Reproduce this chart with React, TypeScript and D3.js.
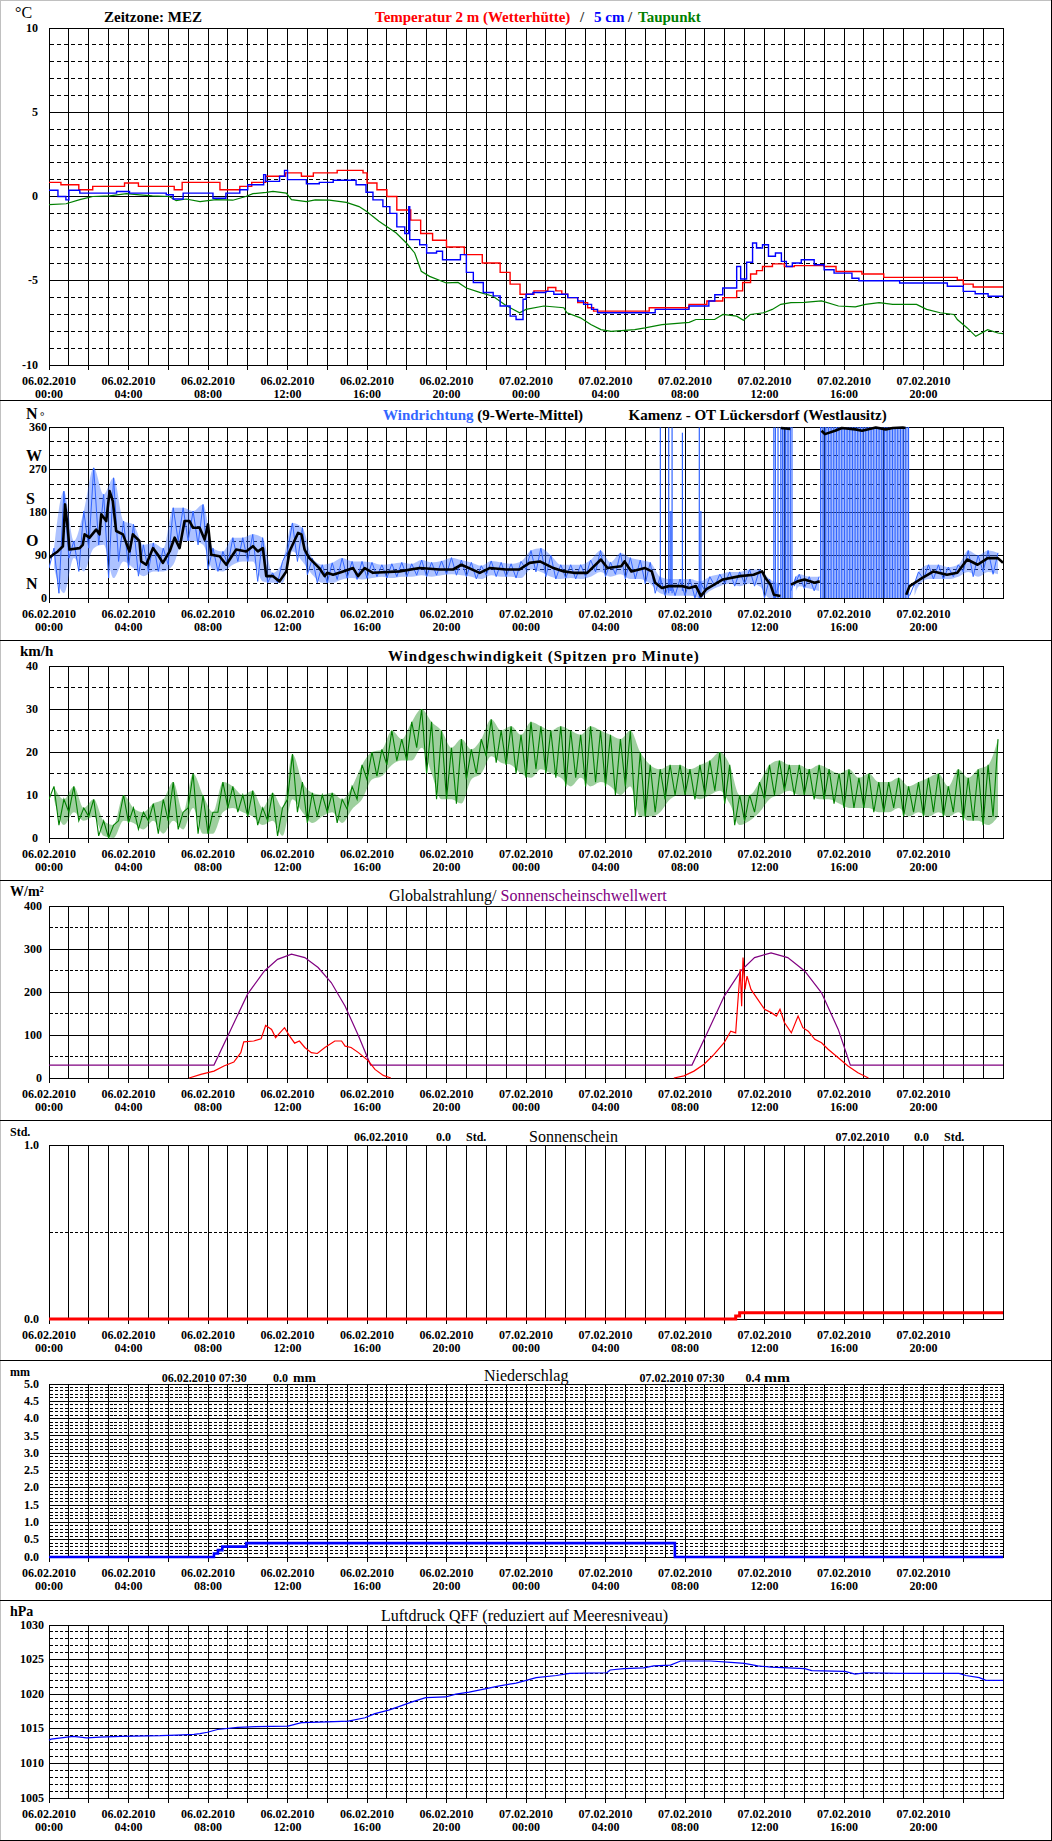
import React from 'react';
import * as d3 from 'd3';

const FONT = '"Liberation Serif","Times New Roman",Times,serif';

// ---------- axis labels ----------
const axisHours = [0, 4, 8, 12, 16, 20, 24, 28, 32, 36, 40, 44];
const axisDates = ['06.02.2010', '06.02.2010', '06.02.2010', '06.02.2010', '06.02.2010', '06.02.2010', '07.02.2010', '07.02.2010', '07.02.2010', '07.02.2010', '07.02.2010', '07.02.2010'];
const axisTimes = ['00:00', '04:00', '08:00', '12:00', '16:00', '20:00', '00:00', '04:00', '08:00', '12:00', '16:00', '20:00'];

const tempTicks = [10, 5, 0, -5, -10];
const dirTicks = [360, 270, 180, 90, 0];
const dirLetters = ['W', 'S', 'O', 'N'];
const dirLetterAt = [270, 180, 90, 0];
const speedTicks = [40, 30, 20, 10, 0];
const radTicks = [400, 300, 200, 100, 0];
const sunTickVals = [1, 0];
const sunTickText = ['1.0', '0.0'];
const rainTickVals = [5, 4.5, 4, 3.5, 3, 2.5, 2, 1.5, 1, 0.5, 0];
const rainTickText = ['5.0', '4.5', '4.0', '3.5', '3.0', '2.5', '2.0', '1.5', '1.0', '0.5', '0.0'];
const presTicks = [1030, 1025, 1020, 1015, 1010, 1005];

// ---------- temperature [hour, °C] ----------
const tempAir: [number, number][] = [[0, 0.84], [0.6, 0.7], [1.5, 0.4], [2.2, 0.6], [3.8, 0.8], [4.5, 0.6], [6.3, 0.4], [6.7, 0.84], [8.6, 0.4], [9.6, 0.6], [10.2, 0.84], [10.9, 1.2], [11.9, 1.4], [12.7, 1.2], [13.3, 1.4], [14.5, 1.55], [15.8, 1.4], [16.0, 0.8], [16.5, 0.4], [17.0, 0.0], [17.5, -0.8], [18.2, -1.4], [18.7, -2.2], [19.3, -2.6], [20.0, -3.0], [20.9, -3.45], [21.8, -3.95], [22.7, -4.5], [23.2, -5.2], [23.7, -5.8], [24.4, -5.6], [25.1, -5.4], [25.5, -5.6], [25.8, -5.8], [26.1, -6.0], [26.6, -6.3], [27.1, -6.6], [27.4, -6.8], [30.2, -6.6], [32.2, -6.4], [33.1, -6.2], [33.9, -6.0], [34.6, -5.6], [34.9, -5.1], [35.3, -4.6], [35.6, -4.4], [35.9, -4.15], [36.4, -4.0], [37.0, -4.15], [37.5, -4.1], [39.0, -4.15], [39.6, -4.45], [40.9, -4.6], [42.0, -4.8], [45.7, -4.95], [46.0, -5.2], [46.5, -5.37], [48, -5.37]];
const tempGround: [number, number][] = [[0, 0.37], [0.45, 0.0], [0.85, -0.2], [1.0, 0.37], [1.55, 0.2], [3.4, 0.3], [4.05, 0.2], [5.9, 0.1], [6.25, -0.15], [6.75, 0.2], [8.25, -0.1], [8.9, 0.2], [9.6, 0.4], [10.0, 0.7], [10.8, 1.3], [10.9, 0.9], [11.6, 1.2], [11.85, 1.55], [12.0, 1.0], [12.95, 0.76], [13.6, 0.84], [14.3, 0.96], [15.45, 0.7], [15.95, 0.25], [16.3, -0.2], [16.8, -0.6], [17.15, -1.0], [17.5, -1.8], [17.9, -2.2], [18.1, -0.6], [18.15, -2.56], [18.65, -2.86], [19.0, -3.35], [19.5, -3.25], [19.8, -3.75], [20.7, -3.45], [21.0, -4.5], [21.35, -5.1], [21.85, -5.7], [22.35, -5.9], [22.7, -6.5], [23.2, -7.1], [23.5, -7.3], [23.85, -6.1], [24.0, -5.8], [24.35, -5.7], [25.0, -5.63], [25.4, -5.8], [26.1, -6.0], [26.6, -6.2], [26.9, -6.4], [27.3, -6.7], [27.6, -6.9], [30.5, -6.7], [32.2, -6.5], [33.2, -6.2], [33.5, -5.83], [33.9, -5.43], [34.6, -4.15], [34.8, -4.9], [35.1, -3.9], [35.4, -2.76], [35.6, -3.06], [35.9, -2.86], [36.2, -3.55], [36.55, -3.35], [36.85, -3.85], [37.1, -4.15], [37.4, -3.95], [37.85, -3.75], [38.5, -4.05], [39.0, -4.35], [39.5, -4.55], [40.4, -4.85], [40.75, -5.0], [42.8, -5.13], [45.2, -5.33], [46.0, -5.63], [46.6, -5.77], [47.25, -5.92], [48, -5.92]];
const dewPoint: [number, number][] = [[0, -0.48], [0.86, -0.43], [1.55, -0.19], [2.2, 0.0], [3.05, 0.04], [3.9, 0.17], [4.55, 0.1], [5.2, 0.04], [6.05, 0.0], [6.4, -0.25], [6.9, -0.15], [7.6, -0.3], [8.4, -0.19], [9.25, -0.22], [9.9, 0.0], [10.26, 0.17], [10.93, 0.25], [11.27, 0.3], [11.94, 0.2], [12.2, -0.19], [12.95, -0.3], [13.4, -0.2], [14.1, -0.22], [14.96, -0.35], [15.6, -0.6], [15.97, -0.88], [16.6, -1.47], [16.97, -1.77], [17.47, -2.17], [17.98, -2.76], [18.4, -3.35], [18.73, -4.44], [19.15, -4.74], [19.99, -5.13], [20.58, -5.1], [21.0, -5.43], [21.67, -5.69], [22.34, -5.92], [23.01, -6.48], [23.68, -6.9], [24.0, -6.7], [24.9, -6.5], [25.9, -6.6], [26.06, -6.9], [26.74, -7.2], [27.26, -7.6], [27.77, -7.9], [28.28, -8.0], [29.47, -7.9], [29.99, -7.8], [30.84, -7.6], [32.21, -7.47], [32.55, -7.3], [33.49, -7.3], [33.91, -7.0], [34.6, -7.1], [34.94, -7.35], [35.28, -7.0], [35.96, -6.9], [36.39, -6.7], [36.82, -6.4], [37.33, -6.3], [38.01, -6.28], [38.87, -6.2], [39.72, -6.5], [40.57, -6.55], [41.08, -6.4], [41.77, -6.3], [42.45, -6.4], [43.65, -6.4], [44.16, -6.7], [44.84, -6.9], [45.53, -7.0], [45.7, -7.3], [46.2, -7.8], [46.63, -8.3], [47.23, -7.9], [47.74, -8.1], [48, -8.14]];

// ---------- wind direction ----------
// raw (1-min) spread per half hour bin: [binStart, low, high]
const windDirRange: [number, number, number][] = [[0, 63, 105], [0.5, 10, 225], [1, 84, 120], [1.5, 56, 183], [2, 105, 274], [2.5, 112, 218], [3, 42, 253], [3.5, 77, 162], [4, 63, 155], [4.5, 46, 112], [5, 56, 116], [5.5, 56, 105], [6, 70, 190], [6.5, 120, 190], [7, 120, 183], [7.5, 112, 197], [8, 60, 105], [8.5, 56, 98], [9, 70, 127], [9.5, 77, 127], [10, 77, 134], [10.5, 35, 127], [11, 32, 53], [11.5, 32, 77], [12, 98, 158], [12.5, 77, 148], [13, 49, 84], [13.5, 32, 70], [14, 32, 74], [14.5, 39, 84], [15, 42, 77], [15.5, 39, 77], [16, 42, 75], [16.5, 45, 70], [17, 42, 72], [17.5, 45, 75], [18, 45, 72], [18.5, 48, 80], [19, 45, 75], [19.5, 48, 78], [20, 50, 85], [20.5, 48, 80], [21, 45, 75], [21.5, 40, 68], [22, 48, 78], [22.5, 45, 75], [23, 45, 72], [23.5, 42, 77], [24, 60, 100], [24.5, 55, 105], [25, 45, 90], [25.5, 40, 70], [26, 42, 70], [26.5, 40, 70], [27, 45, 80], [27.5, 55, 100], [28, 45, 75], [28.5, 50, 95], [29, 40, 85], [29.5, 40, 80], [30, 30, 75], [30.5, 10, 45], [31, 5, 40], [31.5, 5, 40], [32, 5, 40], [32.5, 0, 35], [33, 15, 45], [33.5, 25, 50], [34, 30, 55], [34.5, 25, 55], [35, 30, 60], [35.5, 25, 60], [36, 0, 40], [36.5, 0, 30], [37.33, 15, 45], [37.5, 25, 50], [38, 20, 45], [38.5, 15, 45], [43.3, 5, 30], [43.5, 25, 55], [44, 40, 70], [44.5, 40, 70], [45, 40, 65], [45.5, 45, 70], [46, 55, 100], [46.5, 45, 90], [47, 55, 100], [47.5, 50, 95]];
// single full-swing lines (north wind jumping 0/360): [hour, low, high]
const windDirSpikes: [number, number, number][] = [[30.76, 20, 359], [31.18, 10, 359], [31.25, 15, 183], [31.3, 15, 183], [31.35, 10, 359], [31.87, 15, 348], [32.72, 0, 359], [32.8, 0, 183], [36.47, 0, 359], [36.55, 0, 359], [36.68, 0, 359], [36.82, 0, 359], [36.9, 0, 359]];
// dense 0/360 oscillation periods: [start, end]
const windDirBlocks: [number, number][] = [[36.98, 37.41], [38.82, 43.28]];
// 9-value running mean
const windDirMean: ([number, number] | null)[] = [[0, 84], [0.2, 91], [0.44, 98], [0.7, 109], [0.81, 197], [0.95, 144], [1.03, 102], [1.54, 105], [1.7, 112], [1.79, 134], [2.04, 127], [2.37, 144], [2.54, 134], [2.63, 176], [2.88, 162], [3.05, 225], [3.21, 204], [3.38, 141], [3.72, 134], [4.05, 98], [4.22, 134], [4.55, 120], [4.64, 77], [4.89, 70], [5.23, 105], [5.48, 91], [5.73, 74], [6.07, 98], [6.32, 127], [6.57, 105], [6.82, 162], [7.07, 162], [7.24, 148], [7.58, 148], [7.83, 123], [8.0, 155], [8.16, 91], [8.58, 88], [8.92, 70], [9.42, 102], [9.92, 98], [10.26, 109], [10.51, 98], [10.76, 105], [10.93, 46], [11.27, 46], [11.6, 35], [11.94, 56], [12.1, 98], [12.53, 137], [12.7, 134], [12.86, 102], [13.1, 84], [13.6, 63], [13.87, 46], [14.0, 53], [14.29, 49], [14.8, 56], [15.3, 63], [15.55, 46], [15.88, 63], [16.3, 53], [17.64, 56], [18.65, 63], [19.66, 60], [20.33, 60], [20.75, 70], [21.67, 53], [22.17, 63], [23.0, 60], [23.67, 60], [24.18, 74], [24.7, 77], [25.38, 63], [25.9, 56], [26.4, 53], [27.08, 53], [27.77, 81], [28.1, 63], [28.79, 67], [28.96, 77], [29.3, 56], [29.99, 63], [30.33, 56], [30.5, 32], [30.84, 21], [31.18, 25], [31.87, 25], [32.21, 21], [32.55, 25], [32.8, 4], [33.06, 18], [33.91, 39], [34.77, 46], [35.45, 49], [35.88, 56], [36.05, 42], [36.3, 28], [36.47, 7], [36.8, 4], null, [36.82, 358], [37.3, 356], null, [37.33, 28], [37.67, 35], [38.01, 39], [38.52, 32], [38.78, 35], null, [38.87, 352], [39.04, 345], [39.55, 352], [39.89, 358], [40.57, 355], [40.91, 352], [41.6, 359], [42.1, 355], [42.45, 358], [42.96, 359], [43.1, 358], null, [43.13, 7], [43.3, 25], [43.82, 39], [44.5, 56], [45.18, 49], [45.7, 53], [46.2, 81], [46.72, 70], [47.23, 84], [47.74, 84], [48, 74]];

// ---------- wind speed (peaks per minute) per half hour: [binStart, low, high] km/h ----------
const windSpeedRange: [number, number, number][] = [[0, 9, 12], [0.5, 3, 9], [1, 6, 12], [1.5, 4, 7], [2, 5, 9], [2.5, 0.5, 4], [3, 0, 3], [3.5, 4, 10], [4, 3.5, 7], [4.5, 2, 6], [5, 4, 8], [5.5, 1, 9], [6, 4, 13], [6.5, 2, 6], [7, 7, 15], [7.5, 1, 10], [8, 1, 6], [8.5, 6, 13], [9, 7, 12], [9.5, 6, 10], [10, 5, 11], [10.5, 3, 7], [11, 4, 10.5], [11.5, 0.5, 7], [12, 9, 19.5], [12.5, 6, 13], [13, 3.5, 10.5], [13.5, 5, 10], [14, 6, 10.5], [14.5, 3.5, 9], [15, 6.7, 12], [15.5, 9, 17], [16, 13.6, 20], [16.5, 14.4, 20.6], [17, 17, 25], [17.5, 18, 23], [18, 18, 27], [18.5, 21, 30], [19, 15, 27], [19.5, 9, 25], [20, 9, 21], [20.5, 8, 23], [21, 13.6, 20.6], [21.5, 15, 23], [22, 19, 27.6], [22.5, 17.5, 25], [23, 17, 26], [23.5, 15, 24], [24, 14, 27], [24.5, 16, 26], [25, 15, 25], [25.5, 14, 26], [26, 12, 25], [26.5, 14, 24], [27, 12, 26], [27.5, 13, 25], [28, 12, 24], [28.5, 10, 23], [29, 12, 25], [29.5, 5, 20], [30, 5, 17], [30.5, 6, 16], [31, 9, 17], [31.5, 10, 17], [32, 10, 16], [32.5, 9, 17], [33, 10, 18], [33.5, 11, 20], [34, 8, 17], [34.5, 3, 10], [35, 4, 10], [35.5, 6, 13], [36, 9, 17], [36.5, 10, 18], [37, 11, 17], [37.5, 10, 17], [38, 10, 16], [38.5, 9, 17], [39, 9, 16], [39.5, 8, 15], [40, 7, 16], [40.5, 7, 14], [41, 7, 15], [41.5, 6, 13], [42, 6, 13], [42.5, 7, 14], [43, 5, 12], [43.5, 6, 13], [44, 5, 14], [44.5, 6, 15], [45, 5, 12], [45.5, 6, 16], [46, 4, 14], [46.5, 4, 16], [47, 3, 17], [47.5, 5, 23]];

// ---------- global radiation [hour, W/m²] ----------
const radDay1: [number, number][] = [[7.05, 0], [7.64, 8.5], [8.3, 16], [8.8, 28], [9.3, 37], [9.65, 59], [9.8, 84], [10.3, 86], [10.67, 91], [10.9, 122], [11.2, 113], [11.4, 94], [11.85, 117], [12.1, 98], [12.36, 81], [12.6, 86], [12.87, 71], [13.2, 59], [13.5, 57], [13.88, 71], [14.38, 86], [14.72, 86], [14.9, 74], [15.2, 71], [15.57, 59], [16.07, 40], [16.4, 20], [16.82, 6], [17.2, 0]];
const radDay2: [number, number][] = [[31.44, 0], [31.95, 5], [32.45, 16], [32.96, 32], [33.46, 55], [33.97, 82], [34.3, 109], [34.55, 105], [34.65, 171], [34.78, 253], [34.85, 167], [34.92, 280], [35.02, 206], [35.12, 237], [35.32, 206], [35.66, 183], [36.0, 160], [36.34, 152], [36.6, 144], [36.78, 160], [37.0, 129], [37.35, 105], [37.69, 144], [37.93, 117], [38.2, 109], [38.53, 90], [38.87, 82], [39.2, 67], [39.71, 47], [40.2, 28], [40.7, 12], [41.23, 0]];
const sunThreshold: [number, number][] = [[0, 30], [8.3, 30], [9.15, 113], [9.99, 195], [10.84, 249], [11.5, 276], [12.2, 288], [12.87, 280], [13.54, 257], [14.2, 222], [14.9, 167], [15.57, 98], [16.18, 30], [32.35, 30], [33.12, 105], [33.97, 190], [34.81, 249], [35.5, 280], [36.33, 291], [37.17, 280], [38.02, 249], [38.87, 198], [39.71, 113], [40.32, 30], [48, 30]];

// ---------- sunshine duration [hour, h] ----------
const sunshine: [number, number][] = [[0, 0], [34.55, 0.017], [34.75, 0.036], [48, 0.036]];

// ---------- precipitation [hour, mm] ----------
const precip: [number, number][] = [[0, 0], [8.3, 0.1], [8.5, 0.2], [8.72, 0.3], [9.92, 0.4], [31.49, 0], [48, 0]];

// ---------- pressure [hour, hPa] ----------
const pressure: [number, number][] = [[0, 1013.35], [0.1, 1013.5], [1.22, 1013.9], [1.9, 1013.7], [2.57, 1013.8], [3.6, 1013.9], [5.61, 1014.0], [6.4, 1014.1], [7.3, 1014.2], [7.6, 1014.3], [7.97, 1014.5], [8.48, 1014.9], [9.49, 1015.2], [10.4, 1015.3], [12.03, 1015.4], [12.7, 1015.9], [14.0, 1016.0], [15.06, 1016.1], [15.9, 1016.6], [16.4, 1017.2], [17.09, 1017.7], [17.6, 1018.2], [18.27, 1018.9], [18.95, 1019.5], [19.96, 1019.6], [20.47, 1020.0], [21.14, 1020.3], [21.82, 1020.7], [22.66, 1021.2], [23.5, 1021.6], [24.01, 1022.0], [24.51, 1022.4], [25.53, 1022.7], [26.2, 1023.0], [28.07, 1023.1], [28.23, 1023.5], [28.91, 1023.7], [29.92, 1023.8], [30.43, 1024.1], [31.27, 1024.2], [31.78, 1024.8], [33.3, 1024.8], [34.31, 1024.6], [34.99, 1024.45], [35.66, 1024.1], [36.33, 1023.9], [38.03, 1023.7], [38.37, 1023.4], [40.05, 1023.3], [40.56, 1022.9], [41.06, 1023.1], [42.75, 1023.0], [45.79, 1023.0], [46.13, 1022.7], [46.81, 1022.4], [47.14, 1022.0], [48, 1022.0]];

// ---------- layout ----------
const xs = d3.scaleLinear().domain([0, 48]).range([49, 1003]);
const sn = (v: number) => Math.floor(v) + 0.5;

type Geom = { top: number; bottom: number; domain: [number, number]; major: number; minor: number; dash: string };
const G1: Geom = { top: 28, bottom: 365, domain: [-10, 10], major: 5, minor: 1, dash: '4,3' };
const G2: Geom = { top: 427, bottom: 598, domain: [0, 360], major: 90, minor: 30, dash: '4,3' };
const G3: Geom = { top: 666, bottom: 838, domain: [0, 40], major: 10, minor: 5, dash: '4,3' };
const G4: Geom = { top: 906, bottom: 1078, domain: [0, 400], major: 100, minor: 50, dash: '3,2' };
const G5: Geom = { top: 1145, bottom: 1319, domain: [0, 1], major: 1, minor: 0.5, dash: '3,2' };
const G6: Geom = { top: 1384, bottom: 1557, domain: [0, 5], major: 0.5, minor: 0.1, dash: '3,2' };
const G7: Geom = { top: 1625, bottom: 1798, domain: [1005, 1030], major: 5, minor: 1, dash: '3,2' };

const yOf = (g: Geom) => d3.scaleLinear().domain(g.domain).range([g.bottom, g.top]);

function Grid({ g }: { g: Geom }) {
  const y = yOf(g);
  const n = Math.round((g.domain[1] - g.domain[0]) / g.minor);
  const els: React.ReactNode[] = [];
  for (let i = 1; i < n; i++) {
    const v = g.domain[0] + i * g.minor;
    const r = v / g.major;
    const isMajor = Math.abs(r - Math.round(r)) < 1e-6;
    const yy = sn(y(v));
    els.push(<line key={'h' + i} x1={sn(xs(0))} x2={sn(xs(48))} y1={yy} y2={yy} stroke="#000" strokeWidth={1} strokeDasharray={isMajor ? undefined : g.dash} />);
  }
  for (let h = 1; h < 48; h++) {
    const xx = sn(xs(h));
    els.push(<line key={'v' + h} x1={xx} x2={xx} y1={sn(y(g.domain[1]))} y2={sn(y(g.domain[0]))} stroke="#000" strokeWidth={1} />);
  }
  for (let h = 0; h <= 46; h += 2) {
    const xx = sn(xs(h));
    els.push(<line key={'t' + h} x1={xx} x2={xx} y1={sn(y(g.domain[0]))} y2={sn(y(g.domain[0])) + 4} stroke="#000" strokeWidth={1} />);
  }
  els.push(<rect key="frame" x={sn(xs(0))} y={sn(y(g.domain[1]))} width={sn(xs(48)) - sn(xs(0))} height={sn(y(g.domain[0])) - sn(y(g.domain[1]))} fill="none" stroke="#000" strokeWidth={1} />);
  return <g shapeRendering="crispEdges">{els}</g>;
}

function XLabels({ g }: { g: Geom }) {
  return (
    <g fontFamily={FONT} fontWeight="bold" fontSize={12} textAnchor="middle" fill="#000">
      {axisHours.map((h, i) => (
        <g key={h}>
          <text x={xs(h)} y={g.bottom + 19.5}>{axisDates[i]}</text>
          <text x={xs(h)} y={g.bottom + 33}>{axisTimes[i]}</text>
        </g>
      ))}
    </g>
  );
}

function YLabels({ g, vals, texts, x, size = 12 }: { g: Geom; vals: number[]; texts: string[]; x: number; size?: number }) {
  const y = yOf(g);
  return (
    <g fontFamily={FONT} fontWeight="bold" fontSize={size} textAnchor="end" fill="#000">
      {vals.map((v, i) => (
        <text key={i} x={x} y={y(v)} dy="0.3em">{texts[i]}</text>
      ))}
    </g>
  );
}

const lineOf = (g: Geom, curve: d3.CurveFactory = d3.curveLinear) => {
  const y = yOf(g);
  return d3.line<[number, number]>().x(d => xs(d[0])).y(d => y(d[1])).curve(curve);
};

// the spread of each bin: lower value at bin start, upper value in bin middle
function zigzag(data: [number, number, number][], binW: number): [number, number][] {
  const pts: [number, number][] = [];
  data.forEach((d) => {
    pts.push([d[0], d[1]]);
    pts.push([d[0] + binW / 2, d[2]]);
  });
  return pts;
}

function band(g: Geom, data: [number, number, number][], binW: number) {
  const y = yOf(g);
  return d3.area<[number, number, number]>()
    .x(d => xs(d[0] + binW / 2))
    .y0(d => y(d[1]))
    .y1(d => y(d[2]))
    .curve(d3.curveMonotoneX)(data) || '';
}

export default function App() {
  const y2 = yOf(G2);

  // wind direction raw: split range bins into contiguous runs
  const dirRuns: [number, number, number][][] = [];
  let cur: [number, number, number][] = [];
  windDirRange.forEach((d, i) => {
    if (i > 0 && d[0] - windDirRange[i - 1][0] > 0.6) { dirRuns.push(cur); cur = []; }
    cur.push(d);
  });
  dirRuns.push(cur);

  const meanLine = d3.line<[number, number] | null>()
    .defined(d => d !== null)
    .x(d => xs((d as [number, number])[0]))
    .y(d => y2((d as [number, number])[1]));

  const hatch: React.ReactNode[] = [];
  windDirBlocks.forEach((b, bi) => {
    for (let x = xs(b[0]); x <= xs(b[1]); x += 1.6) {
      hatch.push(<line key={bi + '_' + x} x1={x} x2={x} y1={y2(0)} y2={y2(360)} stroke="#3366ff" strokeWidth={1.1} />);
    }
  });

  const rule = { fontFamily: FONT };

  return (
    <svg width={1052} height={1841} viewBox="0 0 1052 1841" style={{ position: 'absolute', left: 0, top: 0, background: '#fff' }} xmlns="http://www.w3.org/2000/svg">
      <defs>
        <clipPath id="clip2"><rect x={xs(0)} y={G2.top - 3} width={xs(48) - xs(0)} height={G2.bottom - G2.top + 6} /></clipPath>
        <clipPath id="clip3"><rect x={xs(0)} y={G3.top} width={xs(48) - xs(0)} height={G3.bottom - G3.top + 1} /></clipPath>
      </defs>
      <rect x={0} y={0} width={1052} height={1841} fill="#fff" />
      {/* outer frame */}
      <line x1={0} x2={1052} y1={0.5} y2={0.5} stroke="#c0c0c0" />
      <line x1={0.5} x2={0.5} y1={0} y2={1841} stroke="#c0c0c0" />
      <line x1={1051.5} x2={1051.5} y1={0} y2={1841} stroke="#000" />
      <line x1={0} x2={1052} y1={1840.5} y2={1840.5} stroke="#000" />
      {[400.5, 640.5, 880.5, 1120.5, 1360.5, 1600.5].map(v => (
        <line key={v} x1={0} x2={1052} y1={v} y2={v} stroke="#000" shapeRendering="crispEdges" />
      ))}

      {/* ===== Panel 1: temperature ===== */}
      <Grid g={G1} />
      <path d={lineOf(G1)(dewPoint) || ''} fill="none" stroke="#008000" strokeWidth={1.2} />
      <path d={lineOf(G1, d3.curveStepAfter)(tempAir) || ''} fill="none" stroke="#ff0000" strokeWidth={1.4} />
      <path d={lineOf(G1, d3.curveStepAfter)(tempGround) || ''} fill="none" stroke="#0000ff" strokeWidth={1.4} />
      <YLabels g={G1} vals={tempTicks} texts={tempTicks.map(String)} x={38} />
      <XLabels g={G1} />
      <text x={15} y={18} fontFamily={FONT} fontSize={16}>°C</text>
      <text x={104} y={22} fontFamily={FONT} fontSize={15} fontWeight="bold">Zeitzone: MEZ</text>
      <g {...rule} fontSize={15} fontWeight="bold">
        <text x={375} y={22} fill="#ff0000">Temperatur 2 m (Wetterhütte)</text>
        <text x={580} y={22} fill="#333">/</text>
        <text x={594} y={22} fill="#0000ff">5 cm</text>
        <text x={628} y={22} fill="#333">/</text>
        <text x={638} y={22} fill="#008000">Taupunkt</text>
      </g>

      {/* ===== Panel 2: wind direction ===== */}
      <Grid g={G2} />
      <g clipPath="url(#clip2)">
        {dirRuns.map((run, i) => (
          <path key={'b' + i} d={band(G2, run, 0.5)} fill="#3366ff" fillOpacity={0.4} stroke="none" />
        ))}
        {dirRuns.map((run, i) => (
          <path key={i} d={lineOf(G2)(zigzag(run, 0.5)) || ''} fill="none" stroke="#3366ff" strokeWidth={1} />
        ))}
        {windDirSpikes.map((s, i) => (
          <line key={i} x1={xs(s[0])} x2={xs(s[0])} y1={y2(s[1])} y2={y2(s[2])} stroke="#3366ff" strokeWidth={1.2} />
        ))}
        {hatch}
        <path d={meanLine(windDirMean) || ''} fill="none" stroke="#000" strokeWidth={2.6} strokeLinejoin="round" />
      </g>
      <YLabels g={G2} vals={dirTicks} texts={dirTicks.map(String)} x={47} size={12} />
      <g {...rule} fontSize={16} fontWeight="bold">
        {dirLetters.map((l, i) => (
          <text key={l} x={26} y={y2(dirLetterAt[i]) - 9}>{l}</text>
        ))}
        <text x={26} y={419}>N</text>
        <text x={40} y={420} fontSize={11}>°</text>
      </g>
      <XLabels g={G2} />
      <g {...rule} fontSize={15} fontWeight="bold">
        <text x={383} y={420}><tspan fill="#3366ff">Windrichtung</tspan><tspan fill="#000"> (9-Werte-Mittel)</tspan></text>
        <text x={628.6} y={420}>Kamenz - OT Lückersdorf (Westlausitz)</text>
      </g>

      {/* ===== Panel 3: wind speed ===== */}
      <Grid g={G3} />
      <g clipPath="url(#clip3)">
        <path d={band(G3, windSpeedRange, 0.5)} fill="#008000" fillOpacity={0.38} stroke="none" />
        <path d={lineOf(G3)(zigzag(windSpeedRange, 0.5)) || ''} fill="none" stroke="#008000" strokeWidth={1.1} />
      </g>
      <YLabels g={G3} vals={speedTicks} texts={speedTicks.map(String)} x={38} size={12} />
      <XLabels g={G3} />
      <text x={20} y={656} fontFamily={FONT} fontSize={15} fontWeight="bold">km/h</text>
      <text x={388} y={661} fontFamily={FONT} fontSize={15} fontWeight="bold" letterSpacing={0.9}>Windgeschwindigkeit (Spitzen pro Minute)</text>

      {/* ===== Panel 4: radiation ===== */}
      <Grid g={G4} />
      <path d={lineOf(G4)(sunThreshold) || ''} fill="none" stroke="#800080" strokeWidth={1.2} />
      <path d={lineOf(G4)(radDay1) || ''} fill="none" stroke="#ff0000" strokeWidth={1.2} />
      <path d={lineOf(G4)(radDay2) || ''} fill="none" stroke="#ff0000" strokeWidth={1.2} />
      <YLabels g={G4} vals={radTicks} texts={radTicks.map(String)} x={42} size={12} />
      <XLabels g={G4} />
      <text x={10} y={896} fontFamily={FONT} fontSize={14} fontWeight="bold">W/m²</text>
      <text x={389} y={901} fontFamily={FONT} fontSize={16}><tspan fill="#000">Globalstrahlung/ </tspan><tspan fill="#800080">Sonnenscheinschwellwert</tspan></text>

      {/* ===== Panel 5: sunshine ===== */}
      <Grid g={G5} />
      <path d={lineOf(G5, d3.curveStepAfter)(sunshine) || ''} fill="none" stroke="#ff0000" strokeWidth={3} />
      <YLabels g={G5} vals={sunTickVals} texts={sunTickText} x={39} size={12} />
      <XLabels g={G5} />
      <g {...rule} fontSize={12} fontWeight="bold">
        <text x={10} y={1136}>Std.</text>
        <text x={354} y={1141}>06.02.2010</text>
        <text x={436} y={1141}>0.0</text>
        <text x={466} y={1141}>Std.</text>
        <text x={835.6} y={1141}>07.02.2010</text>
        <text x={914} y={1141}>0.0</text>
        <text x={944} y={1141}>Std.</text>
      </g>
      <text x={529} y={1142} fontFamily={FONT} fontSize={16}>Sonnenschein</text>

      {/* ===== Panel 6: precipitation ===== */}
      <Grid g={G6} />
      <path d={lineOf(G6, d3.curveStepAfter)(precip) || ''} fill="none" stroke="#0000ff" strokeWidth={2.6} />
      <YLabels g={G6} vals={rainTickVals} texts={rainTickText} x={39} size={12} />
      <XLabels g={G6} />
      <g {...rule} fontSize={12} fontWeight="bold">
        <text x={10} y={1376}>mm</text>
        <text x={161.7} y={1382}>06.02.2010 07:30</text>
        <text x={273} y={1382}>0.0</text>
        <text x={293} y={1382} textLength={23} lengthAdjust="spacingAndGlyphs">mm</text>
        <text x={639.4} y={1382}>07.02.2010 07:30</text>
        <text x={745.6} y={1382}>0.4</text>
        <text x={764} y={1382} textLength={26} lengthAdjust="spacingAndGlyphs">mm</text>
      </g>
      <text x={484} y={1381} fontFamily={FONT} fontSize={16}>Niederschlag</text>

      {/* ===== Panel 7: pressure ===== */}
      <Grid g={G7} />
      <path d={lineOf(G7)(pressure) || ''} fill="none" stroke="#0000ff" strokeWidth={1.2} />
      <YLabels g={G7} vals={presTicks} texts={presTicks.map(String)} x={44} size={12} />
      <XLabels g={G7} />
      <text x={10} y={1616} fontFamily={FONT} fontSize={14} fontWeight="bold">hPa</text>
      <text x={381} y={1621} fontFamily={FONT} fontSize={16}>Luftdruck QFF (reduziert auf Meeresniveau)</text>
    </svg>
  );
}
